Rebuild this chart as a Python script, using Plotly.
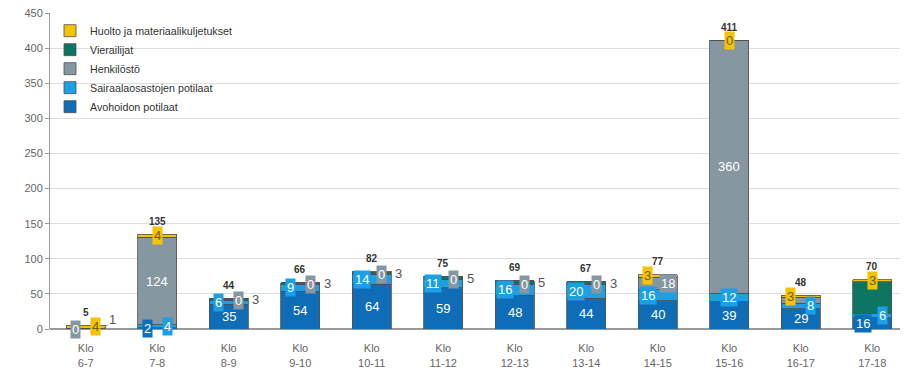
import plotly.graph_objects as go

categories = ["Klo<br>6-7", "Klo<br>7-8", "Klo<br>8-9", "Klo<br>9-10", "Klo<br>10-11", "Klo<br>11-12",
              "Klo<br>12-13", "Klo<br>13-14", "Klo<br>14-15", "Klo<br>15-16", "Klo<br>16-17", "Klo<br>17-18"]
series_names = ["Avohoidon potilaat", "Sairaalaosastojen potilaat", "Henkilöstö", "Vierailijat",
                "Huolto ja materiaalikuljetukset"]
avohoito = [0, 2, 35, 54, 64, 59, 48, 44, 40, 39, 29, 16]
sairaala = [0, 4, 6, 9, 14, 11, 16, 20, 16, 12, 8, 6]
henkilosto = [0, 124, 0, 0, 0, 0, 0, 0, 18, 360, 8, 0]
vierailijat = [1, 1, 3, 3, 3, 5, 5, 3, 0, 0, 0, 45]
huolto = [4, 4, 0, 0, 1, 0, 0, 0, 3, 0, 3, 3]
totals = [5, 135, 44, 66, 82, 75, 69, 67, 77, 411, 48, 70]
y_ticks = [0, 50, 100, 150, 200, 250, 300, 350, 400, 450]

series_values = [avohoito, sairaala, henkilosto, vierailijat, huolto]
colors = ["#0f6db8", "#1d9fe3", "#8697a2", "#0c7663", "#f5c400"]
badge_text = ["#ffffff", "#ffffff", "#ffffff", "#ffffff", "#6f5a00"]

# label layout: (category index, series index, pixel x offset, kind)
label_layout = [
    (0, 2, -10, "badge"), (0, 4, 10, "badge"), (0, 3, 26, "arrow"),
    (1, 0, -10, "badge"), (1, 1, 10, "badge"), (1, 2, 0, "in"), (1, 4, 0, "badge"),
    (8, 0, 0, "in"), (8, 1, -10, "badge"), (8, 2, 10, "badge"), (8, 4, -10, "badge"),
    (9, 0, 0, "in"), (9, 1, 0, "badge"), (9, 2, 0, "in"), (9, 4, 0, "badge"),
    (10, 0, 0, "in"), (10, 1, 10, "badge"), (10, 4, -10, "badge"),
    (11, 0, -9, "badge"), (11, 1, 10, "badge"), (11, 4, 0, "badge"),
]
for c in range(2, 8):
    label_layout += [(c, 0, 0, "in"), (c, 1, -10, "badge"), (c, 2, 10, "badge"), (c, 3, 27, "out")]

FONT = "Liberation Sans, Arial, sans-serif"

fig = go.Figure()
for name, vals, col in zip(series_names, series_values, colors):
    fig.add_trace(go.Bar(
        x=categories, y=vals, name=name,
        marker=dict(color=col, line=dict(color="#505050", width=0.8)),
        hoverinfo="skip",
    ))

annotations = []
for c, s, dx, kind in label_layout:
    base = sum(series_values[k][c] for k in range(s))
    val = series_values[s][c]
    mid = base + val / 2
    txt = str(val)
    if kind == "in":
        annotations.append(dict(x=categories[c], y=mid, text=txt, showarrow=False, xshift=dx,
                                font=dict(family=FONT, size=13, color="#ffffff")))
    elif kind == "badge":
        annotations.append(dict(x=categories[c], y=mid, text=txt, showarrow=False, xshift=dx,
                                bgcolor=colors[s], borderpad=1,
                                font=dict(family=FONT, size=13, color=badge_text[s])))
    elif kind == "out":
        annotations.append(dict(x=categories[c], y=mid, text=txt, showarrow=False, xshift=dx,
                                font=dict(family=FONT, size=13, color="#555555")))
    elif kind == "arrow":
        annotations.append(dict(x=categories[c], y=mid, text=txt, showarrow=True, xshift=18,
                                ax=9, ay=-9, arrowhead=0, arrowwidth=1, arrowcolor="#777777",
                                font=dict(family=FONT, size=13, color="#555555")))

for c, t in enumerate(totals):
    annotations.append(dict(x=categories[c], y=t, text="<b>%d</b>" % t, showarrow=False, yshift=13,
                            font=dict(family=FONT, size=10, color="#333333")))

# the page body adds an 8px offset, margins compensate for it
fig.update_layout(
    width=908, height=369,
    margin=dict(l=42, r=8, t=5, b=48),
    barmode="stack", bargap=0.46,
    plot_bgcolor="#ffffff", paper_bgcolor="#ffffff",
    font=dict(family=FONT, size=10, color="#555555"),
    showlegend=True,
    legend=dict(x=0.0, y=0.99, xanchor="left", yanchor="top", traceorder="reversed",
                font=dict(family=FONT, size=10.7, color="#333333"), bgcolor="rgba(0,0,0,0)",
                tracegroupgap=0),
    annotations=annotations,
    xaxis=dict(showgrid=False, showline=False, ticks="outside", ticklen=9,
               tickcolor="rgba(0,0,0,0)", tickfont=dict(size=11, color="#666666"),
               range=[-0.5, 11.5]),
    yaxis=dict(range=[0, 450], tickvals=y_ticks, ticktext=[str(v) for v in y_ticks],
               showgrid=True, gridcolor="#dedede", gridwidth=1,
               showline=True, linecolor="#999999", linewidth=1, ticks="outside", ticklen=4,
               tickcolor="#999999", tickfont=dict(size=11, color="#666666"),
               ticklabeloverflow="allow", automargin=False,
               zeroline=True, zerolinecolor="#999999", zerolinewidth=2),
)

fig.write_html("out.html")
